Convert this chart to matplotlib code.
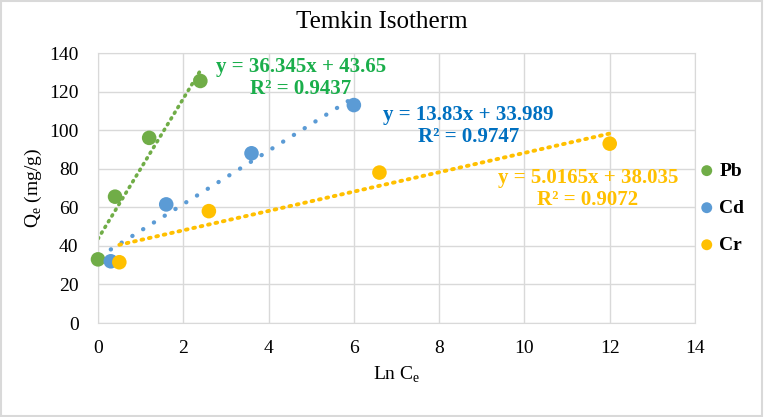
import matplotlib
matplotlib.use("Agg")
import matplotlib.pyplot as plt
import numpy as np

plt.rcParams['font.family'] = ['Liberation Serif', 'DejaVu Serif']

# data
pb_x = [0.0, 0.4, 1.2, 2.4]
pb_y = [33.0, 65.5, 96.0, 125.5]
cd_x = [0.3, 1.6, 3.6, 6.0]
cd_y = [32.0, 61.5, 88.0, 113.0]
cr_x = [0.5, 2.6, 6.6, 12.0]
cr_y = [31.5, 58.0, 78.0, 93.0]

# trendline coefficients (slope, intercept, r2) as shown
pb_fit = [36.345, 43.65, 0.9437]
cd_fit = [13.83, 33.989, 0.9747]
cr_fit = [5.0165, 38.035, 0.9072]

green, blue, yellow = '#70AD47', '#5B9BD5', '#FFC000'

fig = plt.figure(figsize=(7.64, 4.17), dpi=100)
ax = fig.add_axes([98/764, 1-323/417, (695-98)/764, (323-53)/417])

series = [
    ('Pb', pb_x, pb_y, pb_fit, green, '#1AAE4B', (0, (0.35, 1.5)), 2.6, (4.76, 127)),
    ('Cd', cd_x, cd_y, cd_fit, blue, '#0070C0', (0, (0.05, 2.9)), 3.1, (8.68, 102)),
    ('Cr', cr_x, cr_y, cr_fit, yellow, '#FFC000', (0, (0.45, 1.5)), 2.8, (11.49, 69.5)),
]

for name, xs, ys, fit, col, tcol, ls, lw, tpos in series:
    xx = np.array([min(xs), max(xs)])
    ax.plot(xx, fit[0]*xx + fit[1], color=col, linestyle=ls, linewidth=lw,
            dash_capstyle='round', zorder=2)
    ax.scatter(xs, ys, s=110, color=col, zorder=3, label=name, edgecolors='none',
               clip_on=False)
    txt = 'y = %sx + %s\nR\u00b2 = %s' % (fit[0], fit[1], fit[2])
    ax.text(tpos[0], tpos[1], txt, color=tcol, fontsize=15, fontweight='bold',
            ha='center', va='center', multialignment='center', linespacing=1.15)

ax.set_xlim(0, 14)
ax.set_ylim(0, 140)
ax.set_xticks(range(0, 15, 2))
ax.set_yticks(range(0, 141, 20))
ax.grid(True, color='#D9D9D9', linewidth=1)
ax.set_axisbelow(True)
for s in ax.spines.values():
    s.set_color('#D9D9D9')
ax.tick_params(length=0, labelsize=14)
ax.tick_params(axis='x', pad=12)
ax.tick_params(axis='y', pad=14)
ax.set_xlabel('Ln C$_\\mathregular{e}$', fontsize=14, labelpad=6)
ax.set_ylabel('Q$_\\mathregular{e}$ (mg/g)', fontsize=14, labelpad=4)

fig.text(0.5, 1-22/417, 'Temkin Isotherm', ha='center', va='center', fontsize=18)

leg = fig.legend(loc='center left', bbox_to_anchor=(698/764, 1-208/417), frameon=False,
                 handlelength=0.9, handletextpad=0.2, labelspacing=1.0, markerscale=0.75,
                 borderpad=0, borderaxespad=0,
                 prop={'weight': 'bold', 'size': 14})

fig.patches.append(plt.Rectangle((0.001, 0.002), 0.997, 0.995, transform=fig.transFigure,
                                 fill=False, edgecolor='#D9D9D9', linewidth=1.5))

fig.savefig('out.png', dpi=100)
